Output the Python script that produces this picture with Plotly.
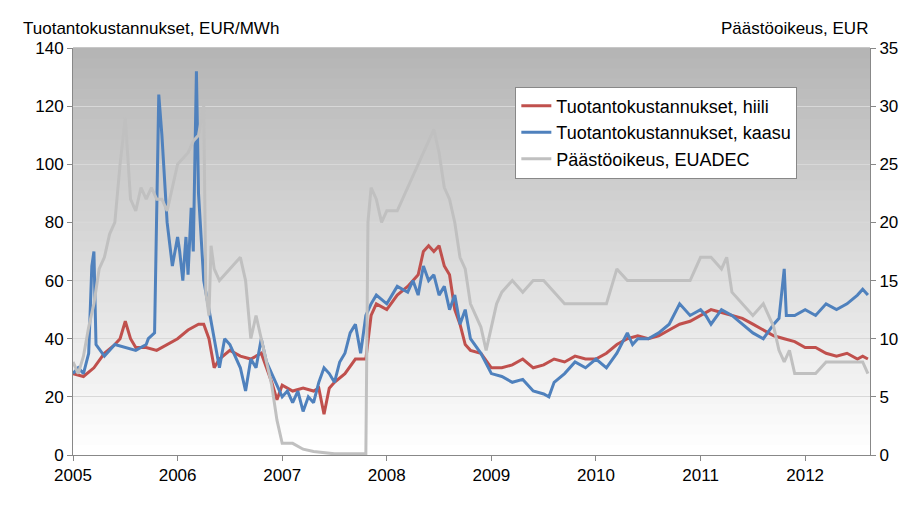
import plotly.graph_objects as go

# decimal years and values
coal_x = [2005.0, 2005.1, 2005.2, 2005.3, 2005.4, 2005.45, 2005.5, 2005.55, 2005.6, 2005.7, 2005.8, 2005.9,
          2006.0, 2006.1, 2006.2, 2006.25, 2006.3, 2006.35, 2006.4, 2006.5, 2006.6, 2006.7, 2006.8, 2006.85,
          2006.9, 2006.95, 2007.0, 2007.1, 2007.2, 2007.3, 2007.35, 2007.4, 2007.45, 2007.5, 2007.6, 2007.7,
          2007.8, 2007.85, 2007.9, 2008.0, 2008.1, 2008.2, 2008.3, 2008.35, 2008.4, 2008.45, 2008.5, 2008.55,
          2008.6, 2008.65, 2008.7, 2008.75, 2008.8, 2008.9, 2009.0, 2009.1, 2009.2, 2009.3, 2009.4, 2009.5,
          2009.6, 2009.7, 2009.8, 2009.9, 2010.0, 2010.1, 2010.2, 2010.3, 2010.4, 2010.5, 2010.6, 2010.7,
          2010.8, 2010.9, 2011.0, 2011.1, 2011.2, 2011.3, 2011.4, 2011.5, 2011.6, 2011.7, 2011.8, 2011.9,
          2012.0, 2012.1, 2012.2, 2012.3, 2012.4, 2012.5, 2012.55, 2012.6]
coal_y = [28, 27, 30, 35, 38, 40, 46, 40, 37, 37, 36, 38,
          40, 43, 45, 45, 40, 30, 33, 36, 34, 33, 35, 30,
          25, 19, 24, 22, 23, 22, 23, 14, 23, 25, 28, 33,
          33, 48, 52, 50, 55, 58, 62, 70, 72, 70, 72, 65,
          62, 50, 45, 38, 36, 35, 30, 30, 31, 33, 30, 31,
          33, 32, 34, 33, 33, 35, 38, 40, 41, 40, 41, 43,
          45, 46, 48, 50, 49, 48, 47, 45, 43, 41, 40, 39,
          37, 37, 35, 34, 35, 33, 34, 33]

gas_x = [2005.0, 2005.05, 2005.1, 2005.15, 2005.18, 2005.2, 2005.22, 2005.3, 2005.4, 2005.5, 2005.6, 2005.7,
         2005.72, 2005.78, 2005.8, 2005.82, 2005.85, 2005.88, 2005.9, 2005.95, 2006.0, 2006.02, 2006.05, 2006.08,
         2006.1, 2006.13, 2006.15, 2006.18, 2006.2, 2006.25, 2006.3, 2006.35, 2006.4, 2006.45, 2006.5, 2006.6,
         2006.65, 2006.7, 2006.75, 2006.8, 2006.85, 2006.9, 2006.95, 2007.0, 2007.05, 2007.1, 2007.15, 2007.2,
         2007.25, 2007.3, 2007.35, 2007.4, 2007.45, 2007.5, 2007.55, 2007.6, 2007.65, 2007.7, 2007.75, 2007.8,
         2007.85, 2007.9, 2008.0, 2008.1, 2008.2, 2008.25, 2008.3, 2008.35, 2008.4, 2008.45, 2008.5, 2008.55,
         2008.6, 2008.65, 2008.7, 2008.75, 2008.8, 2008.9, 2009.0, 2009.1, 2009.2, 2009.3, 2009.4, 2009.5,
         2009.55, 2009.6, 2009.7, 2009.8, 2009.9, 2010.0, 2010.1, 2010.2, 2010.3, 2010.35, 2010.4, 2010.5,
         2010.6, 2010.7, 2010.8, 2010.9, 2011.0, 2011.05, 2011.1, 2011.2, 2011.3, 2011.4, 2011.5, 2011.6,
         2011.7, 2011.75, 2011.8, 2011.82, 2011.9, 2012.0, 2012.1, 2012.2, 2012.3, 2012.4, 2012.5, 2012.55, 2012.6]
gas_y = [28, 30, 28, 35, 65, 70, 38, 34, 38, 37, 36, 38,
         40, 42, 85, 124, 110, 90, 80, 65, 75, 70, 60, 75,
         62, 85, 70, 132, 90, 60, 50, 40, 30, 40, 38, 30,
         22, 33, 30, 40, 32, 28, 24, 20, 22, 18, 22, 15,
         20, 18, 25, 30, 28, 25, 32, 35, 42, 45, 35, 48,
         52, 55, 52, 58, 56, 60, 55, 65, 60, 62, 55, 58,
         50, 55, 45, 50, 40, 35, 28, 27, 25, 26, 22, 21,
         20, 25, 28, 32, 30, 33, 30, 35, 42, 38, 40, 40,
         42, 45, 52, 48, 50, 48, 45, 50, 48, 45, 42, 40,
         45, 47, 64, 48, 48, 50, 48, 52, 50, 52, 55, 57, 55]

eua_x = [2005.0, 2005.05, 2005.1, 2005.15, 2005.2, 2005.25, 2005.3, 2005.35, 2005.4, 2005.45, 2005.5, 2005.55,
         2005.6, 2005.65, 2005.7, 2005.75, 2005.8, 2005.85, 2005.9, 2005.95, 2006.0, 2006.1, 2006.15, 2006.2,
         2006.25, 2006.27, 2006.3, 2006.32, 2006.35, 2006.4, 2006.5, 2006.6, 2006.65, 2006.7, 2006.75, 2006.8,
         2006.85, 2006.9, 2006.95, 2007.0, 2007.1, 2007.2, 2007.3, 2007.5, 2007.8, 2007.82, 2007.85, 2007.9,
         2007.95, 2008.0, 2008.1, 2008.2, 2008.3, 2008.4, 2008.45, 2008.5, 2008.55, 2008.6, 2008.65, 2008.7,
         2008.75, 2008.8, 2008.85, 2008.9, 2008.95, 2009.0, 2009.05, 2009.1, 2009.2, 2009.3, 2009.4, 2009.5,
         2009.6, 2009.7, 2009.8, 2009.9, 2010.0, 2010.1, 2010.2, 2010.3, 2010.4, 2010.5, 2010.6, 2010.7,
         2010.8, 2010.9, 2011.0, 2011.1, 2011.2, 2011.25, 2011.3, 2011.4, 2011.5, 2011.6, 2011.7, 2011.75,
         2011.8, 2011.85, 2011.9, 2012.0, 2012.1, 2012.2, 2012.3, 2012.4, 2012.5, 2012.55, 2012.6]
eua_y = [8, 7, 8.5, 11, 13, 16, 17, 19, 20, 25, 29, 22,
         21, 23, 22, 23, 22, 22, 21, 23, 25, 26, 27, 27.5,
         30, 14, 12, 18, 16, 15, 16, 17, 15, 10, 12, 10,
         8, 6, 3, 1, 1, 0.5, 0.3, 0.1, 0.1, 20, 23, 22,
         20, 21, 21, 23, 25, 27, 28, 26, 23, 22, 20, 17,
         16, 13, 12, 11, 9, 11, 13, 14, 15, 14, 15, 15,
         14, 13, 13, 13, 13, 13, 16, 15, 15, 15, 15, 15,
         15, 15, 17, 17, 16, 17, 14, 13, 12, 13, 11, 9,
         8, 9, 7, 7, 7, 8, 8, 8, 8, 8, 7]

years = [2005, 2006, 2007, 2008, 2009, 2010, 2011, 2012]

font = "Liberation Sans"
fig = go.Figure()
fig.add_trace(go.Scatter(x=eua_x, y=eua_y, yaxis="y2", name="Päästöoikeus, EUADEC",
                         legendrank=3, line=dict(color="#c0c0c0", width=3)))
fig.add_trace(go.Scatter(x=coal_x, y=coal_y, name="Tuotantokustannukset, hiili",
                         legendrank=1, line=dict(color="#c0504d", width=3)))
fig.add_trace(go.Scatter(x=gas_x, y=gas_y, name="Tuotantokustannukset, kaasu",
                         legendrank=2, line=dict(color="#4f81bd", width=3)))

# gradient plot background: stacked bands, grey at top to white at bottom
n = 40
shapes = []
for i in range(n):
    t = i / n
    g = int(180 + (255 - 180) * (1 - t))
    shapes.append(dict(type="rect", xref="paper", yref="paper", x0=0, x1=1,
                       y0=t, y1=t + 1 / n + 0.002, line=dict(width=0),
                       fillcolor=f"rgb({g},{g},{g})", layer="below"))
fig.update_layout(shapes=shapes)

fig.update_layout(
    width=923, height=507, margin=dict(l=65, r=61, t=40, b=60),
    paper_bgcolor="white", plot_bgcolor="rgba(0,0,0,0)",
    font=dict(family=font, size=17, color="black"),
    xaxis=dict(range=[2005, 2012.62], tickvals=years, ticktext=[str(y) for y in years],
               showgrid=False, showline=True, linecolor="#888", ticks="outside",
               ticklen=5, tickcolor="#888", zeroline=False),
    yaxis=dict(range=[0, 140], dtick=20, showgrid=True, gridcolor="#d8d8d8",
               showline=True, linecolor="#888", ticks="outside", ticklen=5,
               tickcolor="#888", zeroline=False),
    yaxis2=dict(range=[0, 35], dtick=5, overlaying="y", side="right", showgrid=False,
                showline=True, linecolor="#888", ticks="outside", ticklen=5,
                tickcolor="#888", zeroline=False),
    legend=dict(x=0.555, y=0.905, xanchor="left", yanchor="top", bgcolor="white",
                bordercolor="#888", borderwidth=1, traceorder="normal",
                font=dict(size=18)),
    annotations=[
        dict(text="Tuotantokustannukset, EUR/MWh", xref="paper", yref="paper",
             x=-0.065, y=1.02, xanchor="left", yanchor="bottom", showarrow=False, font=dict(size=17)),
        dict(text="Päästöoikeus, EUR", xref="paper", yref="paper",
             x=1.0, y=1.02, xanchor="right", yanchor="bottom", showarrow=False, font=dict(size=17)),
    ],
)
fig.write_html("out.html")
